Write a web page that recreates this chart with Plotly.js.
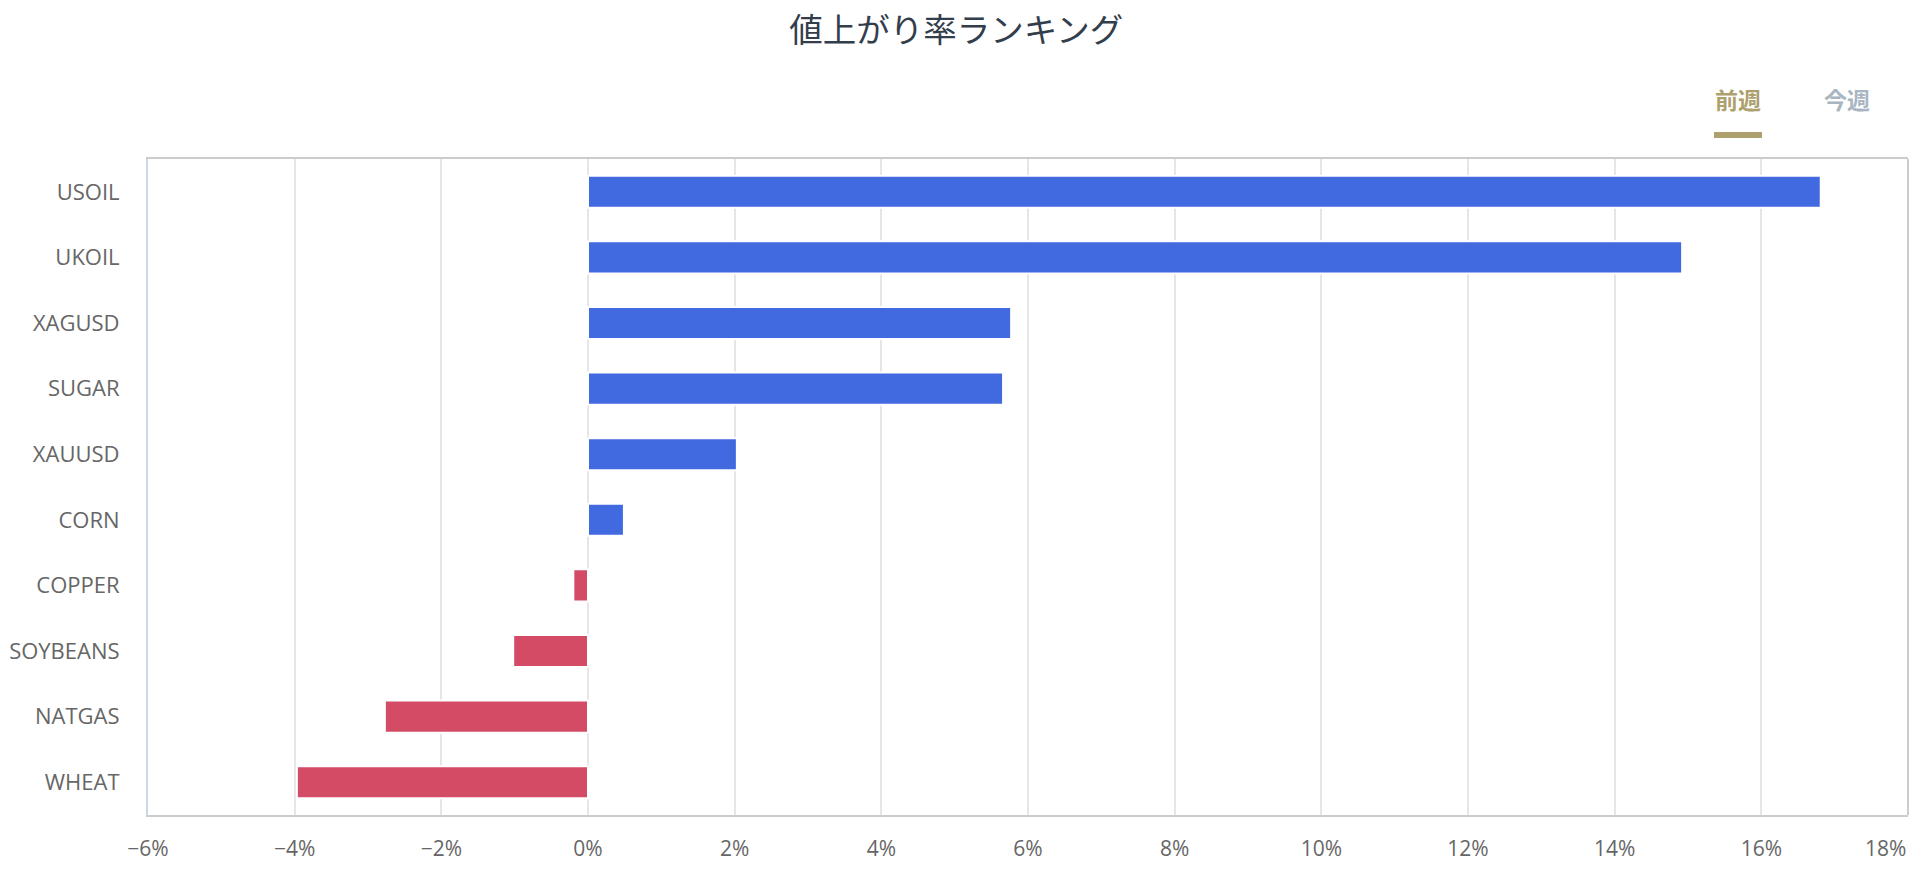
<!DOCTYPE html>
<html>
<head>
<meta charset="utf-8">
<script src="https://cdn.plot.ly/plotly-3.0.1.min.js"></script>
<style>
html,body{margin:0;padding:0;background:#fff;}
#chart{width:1924px;height:882px;}
</style>
</head>
<body>
<div id="chart"></div>
<script>
const categories = ["USOIL","UKOIL","XAGUSD","SUGAR","XAUUSD","CORN","COPPER","SOYBEANS","NATGAS","WHEAT"];
const lastWeek = [16.81, 14.92, 5.77, 5.66, 2.03, 0.49, -0.2, -1.02, -2.77, -3.97];
const tabLabels = ["前週","今週"];
const xTickValues = [-6,-4,-2,0,2,4,6,8,10,12,14,16,18];
const xRange = [-6, 18];

const fmtPct = v => (v < 0 ? "\u2212" + Math.abs(v) : String(v)) + "%";
const barColors = lastWeek.map(v => v >= 0 ? "#4169e0" : "#d34b64");

const trace = {
  type: "bar",
  orientation: "h",
  name: tabLabels[0],
  x: lastWeek,
  y: categories,
  marker: {color: barColors, line: {color: "#ffffff", width: 2}},
  hoverinfo: "x+y"
};

// last tick label is right-aligned to the plot edge (as in the original)
const lastTick = xTickValues[xTickValues.length - 1];

const layout = {
  width: 1924,
  height: 882,
  margin: {l: 148, r: 16, t: 159, b: 67},
  paper_bgcolor: "#ffffff",
  plot_bgcolor: "#ffffff",
  showlegend: false,
  bargap: 0.51,
  font: {family: "Open Sans, Noto Sans, sans-serif", color: "#666666", size: 20},
  title: {
    text: "値上がり率ランキング",
    font: {family: "Noto Sans CJK JP", size: 33.5, color: "#333e4d"},
    xref: "container", x: 0.497, xanchor: "center",
    yref: "container", y: 1 - 30/882, yanchor: "middle"
  },
  xaxis: {
    range: xRange,
    tickvals: xTickValues,
    ticktext: xTickValues.map(v => v === lastTick ? "" : fmtPct(v)),
    showgrid: true,
    gridcolor: "#e6e6e6",
    gridwidth: 2,
    zeroline: false,
    showline: true,
    mirror: true,
    linecolor: "#cccccc",
    linewidth: 2,
    ticks: "",
    ticklabelstandoff: 14,
    tickfont: {size: 21, color: "#666666"},
    fixedrange: true
  },
  yaxis: {
    autorange: "reversed",
    showgrid: false,
    zeroline: false,
    showline: true,
    linecolor: "#ccd6eb",
    linewidth: 2,
    ticks: "",
    ticklabelstandoff: 22,
    tickfont: {size: 22, color: "#666666"},
    fixedrange: true
  },
  shapes: [
    {type: "line", xref: "paper", yref: "paper", x0: 1, x1: 1, y0: 0, y1: 1,
     line: {color: "#cccccc", width: 2}},
    {type: "rect", xref: "paper", yref: "paper",
     x0: (1714-148)/1760, x1: (1762-148)/1760, y0: (815-138)/656, y1: (815-132)/656,
     fillcolor: "#ae9f6e", line: {width: 0}}
  ],
  annotations: [
    {text: fmtPct(lastTick), xref: "x", yref: "paper", x: lastTick, y: 0,
     xanchor: "right", yanchor: "top", yshift: -17, showarrow: false,
     font: {family: "Open Sans, Noto Sans, sans-serif", size: 21, color: "#666666"}},
    {text: "<b>" + tabLabels[0] + "</b>", xref: "paper", yref: "paper",
     x: (1738-148)/1760, y: (815-99)/656, xanchor: "center", yanchor: "middle",
     showarrow: false, font: {family: "Noto Sans CJK JP", size: 23, color: "#ae9f6e"}},
    {text: "<b>" + tabLabels[1] + "</b>", xref: "paper", yref: "paper",
     x: (1847-148)/1760, y: (815-99)/656, xanchor: "center", yanchor: "middle",
     showarrow: false, font: {family: "Noto Sans CJK JP", size: 23, color: "#a9b6c1"}}
  ]
};

Plotly.newPlot("chart", [trace], layout, {displayModeBar: false, staticPlot: true});
</script>
</body>
</html>
